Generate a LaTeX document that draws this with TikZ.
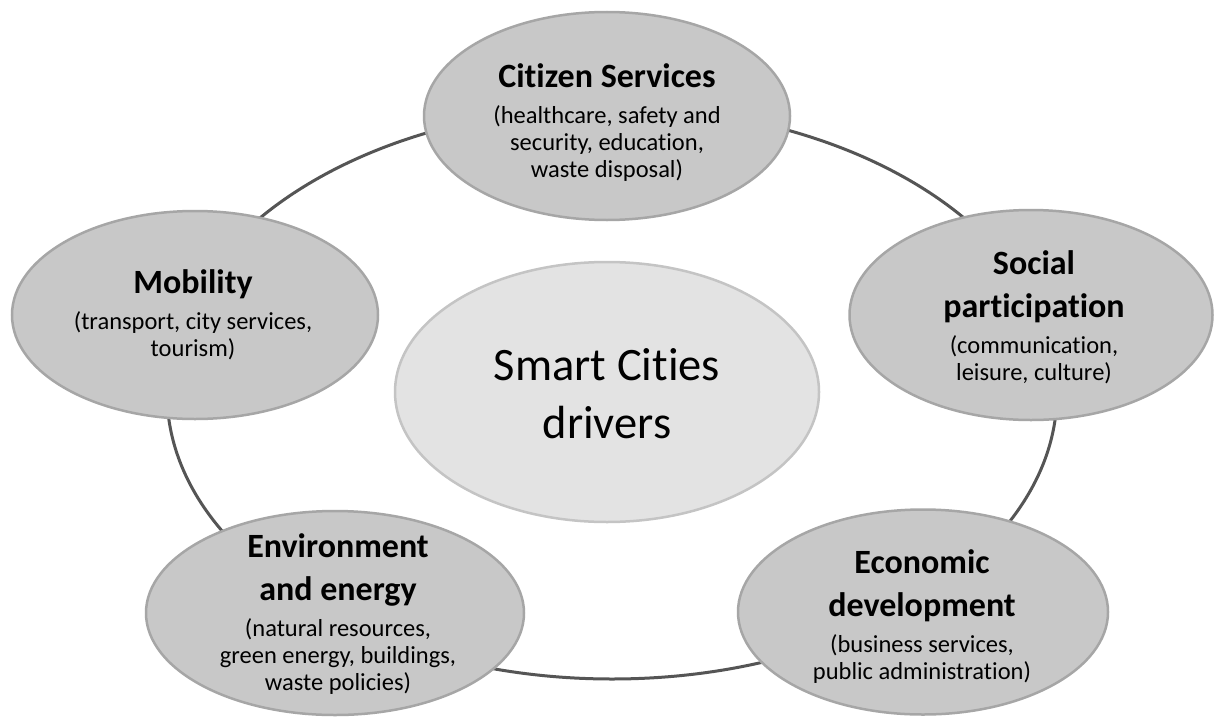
\documentclass[tikz,border=0pt]{standalone}
\usepackage{fontspec}
\setmainfont{Carlito}[Ligatures={NoCommon}]
\usetikzlibrary{shapes.geometric}
\definecolor{bubfill}{HTML}{C8C8C8}
\definecolor{bubline}{HTML}{A6A6A6}
\definecolor{midfill}{HTML}{E3E3E3}
\definecolor{midline}{HTML}{C4C4C4}
\definecolor{ringcol}{HTML}{555555}
\newcommand\ttl[1]{{\bfseries\fontsize{34}{27}\selectfont #1}}
\tikzset{
  bubble/.style={ellipse, fill=bubfill, draw=bubline, line width=2.5pt, inner sep=0pt},
  midbubble/.style={ellipse, fill=midfill, draw=midline, line width=2.5pt, inner sep=0pt},
  txt/.style={align=center, inner sep=0pt, anchor=north, text=black, font=\fontsize{24.5}{27}\selectfont},
  ring/.style={draw=ringcol, line width=3pt}
}
\begin{document}
\begin{tikzpicture}[x=1pt, y=-1pt]
\useasboundingbox (0,0) rectangle (1214,717);
\fill[white] (0,0) rectangle (1214,717);
% ring
\coordinate (ringc) at (612,393);
\draw[ring] (ringc) ellipse [x radius=445pt, y radius=286pt];
% bubbles
\node[bubble, minimum width=366pt, minimum height=208pt] (cs) at (607,116) {};
\node[bubble, minimum width=366pt, minimum height=208pt] (mob) at (195,315) {};
\node[bubble, minimum width=363pt, minimum height=210pt] (soc) at (1031,315) {};
\node[bubble, minimum width=378pt, minimum height=204pt] (env) at (335,613) {};
\node[bubble, minimum width=370pt, minimum height=205pt] (eco) at (923,612) {};
\node[midbubble, minimum width=424pt, minimum height=260pt] (mid) at (607,392) {};
% texts
\node[txt] (cst) at (607,61) {\ttl{\rule{0pt}{26pt}Citizen Services}\\[9pt](healthcare, safety and\\security, education,\\waste disposal)};
\node[txt] (mobt) at (193,267) {\ttl{\rule{0pt}{26pt}Mobility}\\[9pt](transport, city services,\\tourism)};
\node[txt] (soct) at (1034,248) {\ttl{\rule{0pt}{26pt}Social}\\[16pt]\ttl{participation}\\[9pt](communication,\\leisure, culture)};
\node[txt] (envt) at (338,531) {\ttl{\rule{0pt}{26pt}Environment}\\[16pt]\ttl{and energy}\\[9pt](natural resources,\\green energy, buildings,\\waste policies)};
\node[txt] (ecot) at (922,547) {\ttl{\rule{0pt}{26pt}Economic}\\[16pt]\ttl{development}\\[9pt](business services,\\public administration)};
\node[txt, font=\fontsize{46.5}{58}\selectfont] (midt) at (607,342) {\rule{0pt}{38pt}Smart Cities\\drivers};
\end{tikzpicture}
\end{document}
